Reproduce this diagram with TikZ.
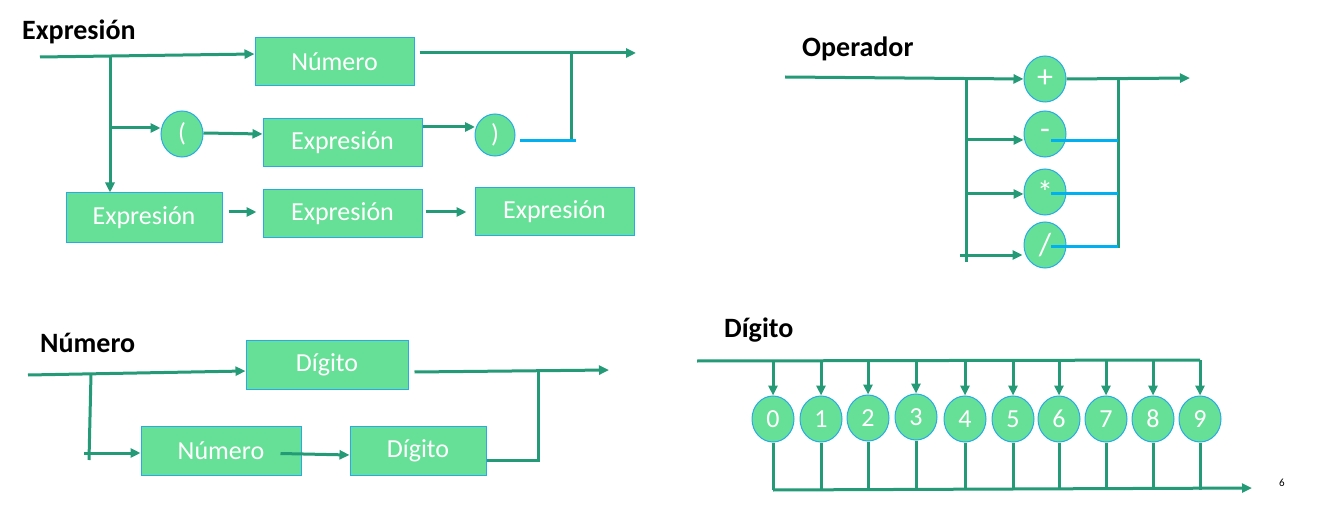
\documentclass[tikz,border=0pt]{standalone}
\usepackage{fontspec}
\setmainfont{Carlito}
\usetikzlibrary{arrows.meta,shapes.geometric,calc}
\definecolor{lnc}{RGB}{36,155,118}
\definecolor{boxf}{RGB}{102,224,150}
\definecolor{boxd}{RGB}{40,170,230}
\definecolor{blc}{RGB}{0,176,240}
\tikzset{
  ln/.style={draw=lnc,line width=3pt},
  arr/.style={ln,-{Triangle[length=10pt,width=9pt]}},
  bl/.style={draw=blc,line width=3pt},
  bx/.style={rectangle,draw=boxd,fill=boxf,line width=1pt,inner sep=0pt,text=white,font=\fontsize{26}{30}\selectfont},
  el/.style={ellipse,draw=boxd,fill=boxf,line width=1pt,inner sep=0pt,minimum width=42pt,minimum height=46pt,text=white,font=\fontsize{26}{30}\selectfont},
  op/.style={el,font=\fontsize{32}{36}\selectfont},
  ttl/.style={anchor=base west,inner sep=0pt,font=\fontsize{28}{32}\selectfont\bfseries}
}
\begin{document}
\begin{tikzpicture}[x=1pt,y=-1pt]
\useasboundingbox[fill=white] (0,0) rectangle (1336,513);

% ---------------- Expresion ----------------
\node[ttl] (t1) at (22,40) {Expresión};
\node[bx,minimum width=159pt,minimum height=48pt] (numE) at (334.5,62) {Número};
\node[bx,minimum width=159pt,minimum height=48pt] (expM) at (342.5,143) {Expresión};
\node[bx,minimum width=156pt,minimum height=50pt] (expBL) at (144,218) {Expresión};
\node[bx,minimum width=159pt,minimum height=48pt] (expB2) at (342.5,214) {Expresión};
\node[bx,minimum width=159pt,minimum height=48pt] (expB3) at (554.5,212) {Expresión};
\node[el] (lp) at (182,134) {(};
\node[el,minimum width=40pt,minimum height=42pt] (rp) at (495,135) {)};

\coordinate (e0) at (40,57);
\coordinate (ej) at (110,56);
\coordinate (ej2) at (110,128);
\coordinate (eo) at (636,53);
\coordinate (ej3) at (571,53);
\coordinate (ej4) at (571,140);
\coordinate (b1) at (520,141);
\coordinate (b2) at (576,141);
\coordinate (rpin) at (475,127);

\draw[arr] (e0) -- ([yshift=8pt]numE.west);
\draw[arr] (ej) -- (ej |- expBL.north);
\draw[arr] (ej2) -- (lp.west |- ej2);
\draw[arr] ([yshift=1pt]lp.east) -- (expM.west |- lp.east);
\draw[arr] ([yshift=16pt]expM.east) -- (rpin);
\draw[arr] ([xshift=5pt,yshift=9pt]numE.east) -- (eo);
\draw[ln] (ej3) -- (ej4);
\draw[bl] (b1) -- (b2);
\draw[arr] ([xshift=6pt,yshift=6pt]expBL.east) -- ([xshift=-6pt,yshift=2pt]expB2.west);
\draw[arr] ([xshift=3pt,yshift=2pt]expB2.east) -- ([xshift=-8pt]expB3.west);

% ---------------- Operador ----------------
\node[ttl] (t2) at (802,57) {Operador};
\node[op] (plus) at (1045,79) {+};
\node[op] (minus) at (1045,134) {-};
\node[op] (times) at (1045,192) {*};
\node[op] (div) at (1045,245) {/};

\coordinate (o0) at (785,77);
\coordinate (oj) at (966,80);
\coordinate (ojb) at (966,262);
\coordinate (ob1) at (966,140);
\coordinate (ob2) at (966,194);
\coordinate (ob3) at (960,255);
\coordinate (oo) at (1190,78);
\coordinate (oj5) at (1118,79);
\coordinate (oj6) at (1118,248);
\coordinate (bb1) at (1118,141);
\coordinate (bb2) at (1118,194);
\coordinate (bb3) at (1118,247);

\draw[arr] (o0) -- (plus.west);
\draw[ln] (oj) -- (ojb);
\draw[arr] (ob1) -- (minus.west |- ob1);
\draw[arr] (ob2) -- (times.west |- ob2);
\draw[arr] (ob3) -- ([xshift=-1pt]div.west |- ob3);
\draw[arr] (plus.east) -- (oo);
\draw[ln] (oj5) -- (oj6);
\draw[bl] ([xshift=6pt]minus.center |- bb1) -- (bb1);
\draw[bl] ([xshift=6pt]times.center |- bb2) -- (bb2);
\draw[bl] ([xshift=6pt]div.center |- bb3) -- (bb3);

% ---------------- Numero ----------------
\node[ttl] (t3) at (40,352) {Número};
\node[bx,minimum width=162pt,minimum height=49pt] (digT) at (327,364.5) {Dígito};
\node[bx,minimum width=160pt,minimum height=49pt] (numB) at (221,450.5) {Número};
\node[bx,minimum width=136pt,minimum height=49pt] (digB) at (418,450.5) {Dígito};

\coordinate (n0) at (28,375);
\coordinate (nj3) at (91,374);
\coordinate (nj4) at (89,460);
\coordinate (nb) at (84,453);
\coordinate (no) at (609,370);
\coordinate (nj1) at (538,370);
\coordinate (nj2) at (538,460);

\draw[arr] (n0) -- ([yshift=-6.5pt]digT.west);
\draw[arr] ([xshift=6pt,yshift=-7.5pt]digT.east) -- (no);
\draw[ln] (nj3) -- (nj4);
\draw[arr] (nb) -- ([yshift=-2.5pt]numB.west);
\draw[arr] ([xshift=-21pt,yshift=-3pt]numB.east) -- ([yshift=-4.5pt]digB.west);
\draw[ln] ([yshift=-9.5pt]digB.east) -- (nj2) -- (nj1);

% ---------------- Digito ----------------
\node[ttl] (t4) at (724,337) {Dígito};
\coordinate (d0) at (697,361);
\coordinate (dend) at (1200,360);
\draw[ln] (d0) -- (dend);
\coordinate (dbl) at (773,490);
\coordinate (dbo) at (1252,488);
\foreach \i/\x/\y in {0/773/419,1/821/419,2/868/418,3/916/417,4/965/419,5/1013/419,6/1059/419,7/1106/419,8/1153/419,9/1200/419}{
  \node[el] (g\i) at (\x,\y) {\i};
  \draw[arr] (\x,360) -- (g\i.north);
  \draw[ln] (g\i.south) -- (\x,490);
}
\draw[arr] (dbl) -- (dbo);
\node[font=\fontsize{11}{13}\selectfont,inner sep=0pt] (pg) at (1282,483) {6};
\end{tikzpicture}
\end{document}
